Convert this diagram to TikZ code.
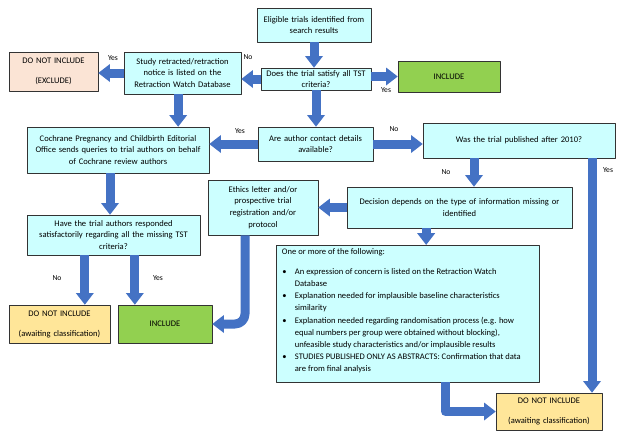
\documentclass[tikz,border=0pt]{standalone}
\usepackage{fontspec}
\setmainfont{Carlito}
\usetikzlibrary{arrows.meta, positioning}
\definecolor{box_cyan}{RGB}{204,255,255}
\definecolor{incl_green}{RGB}{146,208,80}
\definecolor{excl_peach}{RGB}{251,228,213}
\definecolor{wait_yellow}{RGB}{255,230,153}
\definecolor{flow_blue}{RGB}{68,114,196}
\tikzset{
	box/.style={draw=black!80, line width=0.5pt, fill=box_cyan, align=center,
		inner xsep=0.1cm, inner ysep=1pt, font=\fontsize{7.3}{10}\selectfont},
	flow/.style={draw=flow_blue, line width=0.27cm,
		-{Triangle[length=0.35cm, width=0.54cm, line width=0pt]}},
	lbl/.style={inner sep=0pt, font=\fontsize{6.5}{8}\selectfont}
}

\begin{document}
\begin{tikzpicture}[x=0.03cm, y=-0.03cm, line join=round]
	\useasboundingbox (0,0) rectangle (624,440);

	% boxes
	\node[box, text width=3.22cm, minimum height=1.02cm] (elig) at (314,25)
		{Eligible trials identified from\\search results};
	\node[box, text width=3.1cm, minimum height=0.66cm] (does) at (316,79)
		{Does the trial satisfy all TST\\criteria?};
	\node[box, fill=incl_green, text width=2.86cm, minimum height=0.93cm] (incA) at (449,76.5)
		{INCLUDE};
	\node[box, text width=3.31cm, minimum height=1.26cm] (retr) at (182.5,73)
		{Study retracted/retraction\\notice is listed on the\\Retraction Watch Database};
	\node[box, fill=excl_peach, text width=2.47cm, minimum height=1.17cm] (excl) at (53.5,71.5)
		{DO NOT INCLUDE\\[7pt](EXCLUDE)};
	\node[box, text width=5.26cm, minimum height=1.38cm] (coch) at (118,150)
		{Cochrane Pregnancy and Childbirth Editorial\\Office sends queries to trial authors on behalf\\of Cochrane review authors};
	\node[box, text width=3.25cm, minimum height=1.02cm] (auth) at (315.5,144)
		{Are author contact details\\available?};
	\node[box, text width=5.56cm, minimum height=1.05cm] (pub) at (519,140.5)
		{Was the trial published after 2010?};
	\node[box, text width=6.55cm, minimum height=1.23cm] (dec) at (459.5,207.5)
		{Decision depends on the type of information missing or\\identified};
	\node[box, text width=3.1cm, minimum height=1.65cm] (eth) at (263,207.5)
		{Ethics letter and/or\\prospective trial\\registration and/or\\protocol};
	\node[box, text width=4.99cm, minimum height=1.2cm] (resp) at (113.5,235)
		{Have the trial authors responded\\satisfactorily regarding all the missing TST\\criteria?};
	\node[box, fill=wait_yellow, text width=2.83cm, minimum height=1.14cm] (dniL) at (59.5,324)
		{DO NOT INCLUDE\\[7pt](awaiting classification)};
	\node[box, fill=incl_green, text width=2.62cm, minimum height=1.14cm] (incB) at (165,324)
		{INCLUDE};
	\node[box, inner xsep=0.18cm, inner ysep=0.1cm] (list) at (407.5,313.5)
		{\parbox[c][3.9cm][t]{7.53cm}{\raggedright
		One or more of the following:\par\vspace{5pt}
		\begin{list}{\textbullet}{\setlength\leftmargin{11pt}\setlength\labelsep{7pt}
			\setlength\labelwidth{4pt}\setlength\itemsep{1pt}\setlength\parsep{0pt}
			\setlength\topsep{0pt}}
		\item An expression of concern is listed on the Retraction Watch\\Database
		\item Explanation needed for implausible baseline characteristics\\similarity
		\item Explanation needed regarding randomisation process (e.g. how\\equal numbers per group were obtained without blocking),\\unfeasible study characteristics and/or implausible results
		\item STUDIES PUBLISHED ONLY AS ABSTRACTS: Confirmation that data\\are from final analysis
		\end{list}}};
	\node[box, fill=wait_yellow, text width=2.98cm, minimum height=1.11cm] (dniR) at (549,411.5)
		{DO NOT INCLUDE\\[7pt](awaiting classification)};

	% arrows
	\draw[flow] (elig.south) -- (elig.south |- does.north);
	\draw[flow] (does.east |- incA.west) -- (incA.west);
	\draw[flow] (does.west) -- (retr.east |- does.west);
	\draw[flow] (retr.west) -- (excl.east |- retr.west);
	\draw[flow] ([xshift=-0.13cm]retr.south) -- ([xshift=-0.13cm]retr.south |- coch.north);
	\draw[flow] (does.south) -- (does.south |- auth.north);
	\draw[flow] (auth.west) -- (coch.east |- auth.west);
	\draw[flow] (auth.east) -- (pub.west |- auth.east);
	\draw[flow] ([xshift=-1.35cm]pub.south) -- ([xshift=-1.35cm]pub.south |- dec.north);
	\draw[flow] ([xshift=2.19cm]pub.south) -- ([xshift=2.19cm]pub.south |- dniR.north);
	\draw[flow] (dec.west) -- (eth.east |- dec.west);
	\draw[flow] ([xshift=-1cm]dec.south) -- ([xshift=-1cm]dec.south |- list.north);
	\draw[flow] ([xshift=-0.24cm]coch.south) -- ([xshift=-0.24cm]coch.south |- resp.north);
	\draw[flow] ([xshift=-0.86cm]resp.south) -- ([xshift=-0.86cm]resp.south |- dniL.north);
	\draw[flow] ([xshift=0.64cm]resp.south) -- ([xshift=0.64cm]resp.south |- incB.north);
	\draw[flow, rounded corners=0.3cm] ([xshift=-0.54cm]eth.south) |- (incB.east);
	\draw[flow] ([xshift=1.14cm]list.south) |- (dniR.west);

	% answers
	\node[lbl] (yesA) at (386,90) {Yes};
	\node[lbl] (noA) at (248,57) {No};
	\node[lbl] (yesB) at (113,58) {Yes};
	\node[lbl] (yesC) at (240,131) {Yes};
	\node[lbl] (noB) at (394,129) {No};
	\node[lbl] (noC) at (446,172) {No};
	\node[lbl] (yesD) at (608,170) {Yes};
	\node[lbl] (noD) at (57,278) {No};
	\node[lbl] (yesE) at (158,278) {Yes};
\end{tikzpicture}
\end{document}
